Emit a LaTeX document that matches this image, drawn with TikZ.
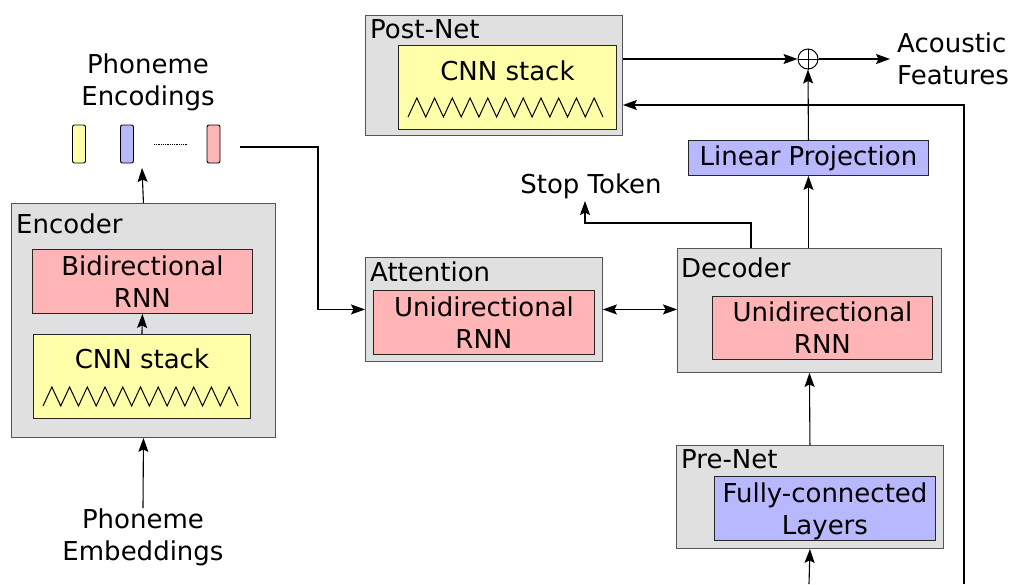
\documentclass[tikz,border=0pt]{standalone}
\usepackage{fontspec}
\setmainfont{DejaVu Sans}
\usetikzlibrary{arrows.meta,calc}

\definecolor{boxgray}{HTML}{E0E0E0}
\definecolor{cnnyellow}{HTML}{FFFFAA}
\definecolor{rnnred}{HTML}{FFB5B5}
\definecolor{projblue}{HTML}{B8B8FF}
\definecolor{edgegray}{HTML}{555555}

\tikzset{
  every node/.style={font=\fontsize{26}{32}\selectfont},
  block/.style={draw=edgegray, line width=0.9pt, fill=boxgray, anchor=north west, inner sep=0pt},
  layer/.style={draw=black!85, line width=0.9pt, anchor=north west, inner sep=0pt, align=center, text depth=0pt},
  tag/.style={anchor=base west, inner sep=0pt},
  lbl/.style={inner sep=0pt, align=center},
  encvec/.style={draw=black, line width=0.9pt, rounded corners=2pt, minimum width=13pt, minimum height=38pt, inner sep=0pt},
  tip/.tip={Stealth[length=14pt,width=10pt,inset=2.5pt]},
  arr/.style={line width=1.1pt, -tip},
  arrboth/.style={line width=1.1pt, tip-tip},
  zig/.style={line width=1pt},
}

\begin{document}
\begin{tikzpicture}[x=1pt,y=-1pt]
\useasboundingbox (0,0) rectangle (1011,584);

% ---------- Post-Net ----------
\node[block, minimum width=257pt, minimum height=120pt] (post) at (365,15) {};
\node[tag] at (370,38) {Post-Net};
\node[layer, fill=cnnyellow, minimum width=218pt, minimum height=84pt] (postcnn) at (398,45) {};
\node[lbl, anchor=base] at ($(postcnn.north)+(0,35)$) {CNN stack};
\draw[zig] (408,117) \foreach \i in {1,...,11} { -- ++(8.864,-19) -- ++(8.864,19) };

% ---------- Encoder ----------
\node[block, minimum width=264pt, minimum height=234pt] (enc) at (11,203) {};
\node[tag] at (16,233) {Encoder};
\node[layer, fill=rnnred, minimum width=220pt, minimum height=64pt] (birnn) at (32,249) {Bidirectional\\RNN};
\node[layer, fill=cnnyellow, minimum width=217pt, minimum height=84pt] (enccnn) at (33,334) {};
\node[lbl, anchor=base] at ($(enccnn.north)+(0,34)$) {CNN stack};
\draw[zig] (43,406) \foreach \i in {1,...,11} { -- ++(8.864,-19) -- ++(8.864,19) };
\draw[arr] (enccnn.north) -- (birnn.south);

% ---------- Phoneme encodings ----------
\node[encvec, fill=cnnyellow] (pe1) at (79,144) {};
\node[encvec, fill=projblue] (pe2) at (127,144) {};
\node[encvec, fill=rnnred] (pe3) at (213.5,144) {};
\draw[densely dotted, line width=0.8pt] ($(pe2.east)+(20,0)$) -- ($(pe3.west)+(-20,0)$);
\node[lbl] (pelbl) at (148,82) {Phoneme\\Encodings};
\coordinate (encout) at (142,168);
\draw[arr] (enc.north) -- (encout);

% ---------- Phoneme embeddings ----------
\node[lbl] (pemb) at (143,537) {Phoneme\\Embeddings};
\draw[arr] (pemb.north) -- (enc.south);

% ---------- Attention ----------
\node[block, minimum width=237pt, minimum height=104pt] (att) at (365,257) {};
\node[tag] at (370,281) {Attention};
\node[layer, fill=rnnred, minimum width=221pt, minimum height=64pt] (attrnn) at (373,290) {Unidirectional\\RNN};

\coordinate (peout) at ($(pe3.east)+(20,3)$);
\coordinate (bend) at (318,147);
\draw[arr] (peout) -- (bend) |- (att.west);

% ---------- Decoder ----------
\node[block, minimum width=264pt, minimum height=124pt] (dec) at (677,248) {};
\node[tag] at (681,277) {Decoder};
\node[layer, fill=rnnred, minimum width=220pt, minimum height=63pt] (decrnn) at (712,296) {Unidirectional\\RNN};
\draw[arrboth] (att.east) -- (att.east -| dec.west);

% ---------- Stop token ----------
\node[lbl] (stop) at (591,186) {Stop Token};
\coordinate (stopx) at (751,223);
\coordinate (stoptip) at (585,201);
\draw[arr] (stopx |- dec.north) -- (stopx) -| (stoptip);

% ---------- Linear projection and sum ----------
\node[layer, fill=projblue, minimum width=240pt, minimum height=35pt, text depth=] (lin) at (688,140) {Linear Projection};
\draw[arr] (lin.south |- dec.north) -- (lin.south);

\node[circle, draw, line width=1pt, minimum size=20pt, inner sep=0pt] (plus) at (808,59) {};
\draw[line width=1pt] (plus.north) -- (plus.south) (plus.west) -- (plus.east);
\draw[arr] (lin.north) -- (plus.south);
\draw[arr] (post.east |- plus.west) -- (plus.west);
\node[lbl, align=left, anchor=west, inner xsep=7pt] (acf) at (890,59) {Acoustic\\Features};
\draw[arr] (plus.east) -- (acf.west);

% ---------- Feedback into the post-net ----------
\coordinate (fbin) at (964,584);
\coordinate (fbrow) at (964,105);
\draw[arr] (fbin) -- (fbrow) -- (post.east |- fbrow);

% ---------- Pre-Net ----------
\node[block, minimum width=267pt, minimum height=103pt] (pre) at (676,445) {};
\node[tag] at (681,468) {Pre-Net};
\node[layer, fill=projblue, minimum width=221pt, minimum height=64pt] (prefc) at (714,476) {Fully-connected\\Layers};
\coordinate (prein) at (809,584);
\draw[arr] (prein) -- (pre.south);
\draw[arr] (pre.north) -- (dec.south);

\end{tikzpicture}
\end{document}
